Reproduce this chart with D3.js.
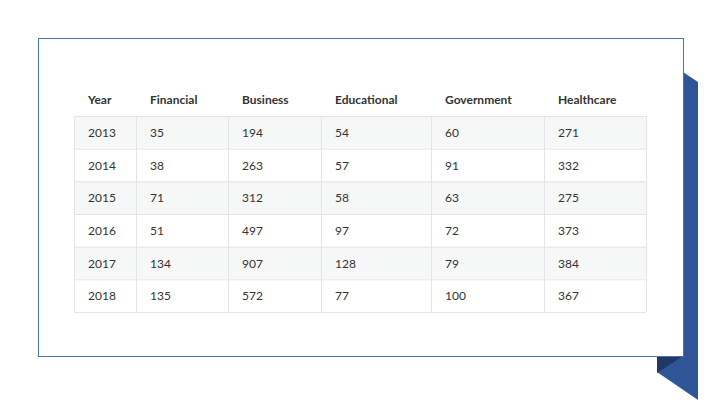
<!DOCTYPE html><html><head><meta charset="utf-8"><script src="https://cdn.jsdelivr.net/npm/d3@7"></script>
<style>body{margin:0;background:#fff}</style></head><body><svg id="c" width="720" height="405"></svg>
<script>
const columns=["Year","Financial","Business","Educational","Government","Healthcare"];
const years=["2013","2014","2015","2016","2017","2018"];
const financial=[35,38,71,51,134,135];
const business=[194,263,312,497,907,572];
const educational=[54,57,58,97,128,77];
const government=[60,91,63,72,79,100];
const healthcare=[271,332,275,373,384,367];
const rows=years.map((y,i)=>[y,financial[i],business[i],educational[i],government[i],healthcare[i]]);
const svg=d3.select("#c");
svg.append("polygon").attr("points","683,72 698,82 698,400 657,372 657,356 683,356").attr("fill","#2f5597");
svg.append("polygon").attr("points","657,356 683,356 657,373").attr("fill","#1f3864");
svg.append("rect").attr("x",38.5).attr("y",38.5).attr("width",645).attr("height",318).attr("fill","#fff").attr("stroke","#4472c4").attr("stroke-width",1);
const edges=[74,136,228,321,431,544,646];
const x=d3.scaleOrdinal().domain(columns).range(edges.slice(0,6));
const y=d3.scaleBand().domain(years).range([116,312]);
const g=svg.append("g").attr("font-family","Lato, 'Open Sans', sans-serif").attr("font-size",12);
rows.forEach((r,i)=>{
  g.append("rect").attr("x",74).attr("y",y(r[0])).attr("width",572).attr("height",y.bandwidth()).attr("fill",i%2==0?"#f6f7f7":"#fff");
});
years.forEach(yr=>g.append("line").attr("x1",74).attr("x2",646).attr("y1",y(yr)+0.5).attr("y2",y(yr)+0.5).attr("stroke","#e3e5e5"));
g.append("line").attr("x1",74).attr("x2",646).attr("y1",312.5).attr("y2",312.5).attr("stroke","#e3e5e5");
edges.forEach(e=>g.append("line").attr("x1",e+0.5).attr("x2",e+0.5).attr("y1",116).attr("y2",312).attr("stroke","#e3e5e5"));
columns.forEach(c=>g.append("text").attr("x",x(c)+14).attr("y",104).attr("font-weight","bold").attr("fill","#333").text(c));
rows.forEach(r=>r.forEach((v,j)=>g.append("text").attr("x",x(columns[j])+14).attr("y",y(r[0])+y.bandwidth()/2+4.5).attr("fill","#333").text(v)));
</script></body></html>
